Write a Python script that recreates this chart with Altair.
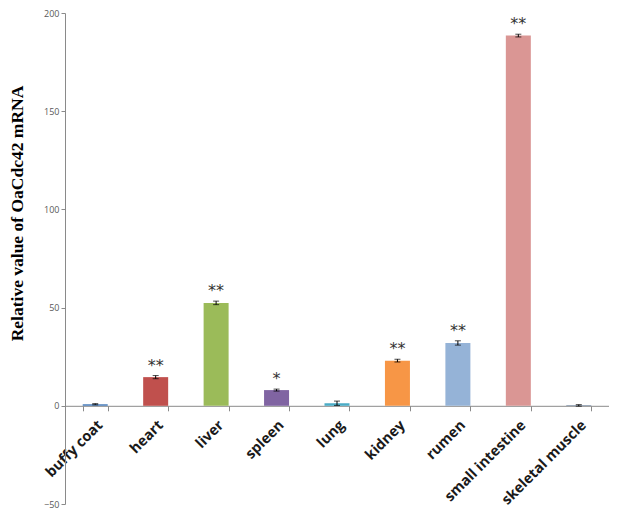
import altair as alt
import pandas as pd

tissues = ["buffy coat", "heart", "liver", "spleen", "lung", "kidney", "rumen",
           "small intestine", "skeletal muscle"]
values = [0.8, 14.6, 52.4, 8.0, 1.3, 23.0, 32.0, 188.5, 0.2]
errors = [0.3, 0.8, 0.9, 0.5, 1.1, 0.7, 1.1, 0.7, 0.4]
marks = ["", "**", "**", "*", "", "**", "**", "**", ""]
colors = ["#4F81BD", "#C0504D", "#9BBB59", "#8064A2", "#4BACC6", "#F79646",
          "#95B3D7", "#DA9694", "#2C4D75"]

df = pd.DataFrame({
    "tissue": tissues,
    "value": values,
    "lo": [v - e for v, e in zip(values, errors)],
    "hi": [v + e for v, e in zip(values, errors)],
    "mark": marks,
    "color": colors,
})

H = 491
W = 544
x = alt.X("tissue:N", sort=tissues, title=None,
          scale=alt.Scale(paddingInner=0.59, paddingOuter=0.295),
          axis=alt.Axis(offset=-(50 * H / 250), labelAngle=-45, labelAlign="right",
                        labelBaseline="top", labelFont="Open Sans", labelFontWeight="bold",
                        labelFontSize=14.5, labelColor="#1a1a1a", labelPadding=7,
                        domainColor="#8a8a8a", tickColor="#8a8a8a", tickSize=5,
                        tickBand="extent", labelOverlap=False))
y_scale = alt.Scale(domain=[-50, 200], nice=False)

base = alt.Chart(df)

bars = base.mark_bar(size=25).encode(
    x=x,
    y=alt.Y("value:Q", scale=y_scale,
            title="Relative value of OaCdc42 mRNA",
            axis=alt.Axis(values=[-50, 0, 50, 100, 150, 200], grid=False,
                          labelFont="Open Sans", labelFontSize=9, labelColor="#595959",
                          domainColor="#8a8a8a", tickColor="#8a8a8a", tickSize=4,
                          titleFont="Liberation Serif", titleFontSize=17.5,
                          titleFontWeight="bold", titleColor="#000000",
                          titleAngle=270, titleAlign="center", titleBaseline="middle",
                          titleX=-48, titleY=200)),
    color=alt.Color("color:N", scale=None),
)

rules = base.mark_rule(color="#000000", strokeWidth=1).encode(
    x=alt.X("tissue:N", sort=tissues), y=alt.Y("lo:Q", scale=y_scale), y2="hi:Q")
cap_lo = base.mark_tick(color="#000000", size=6, thickness=1).encode(
    x=alt.X("tissue:N", sort=tissues), y=alt.Y("lo:Q", scale=y_scale))
cap_hi = base.mark_tick(color="#000000", size=6, thickness=1).encode(
    x=alt.X("tissue:N", sort=tissues), y=alt.Y("hi:Q", scale=y_scale))

stars = base.mark_text(fontSize=16, color="#333333", baseline="bottom", dy=-2,
                       font="DejaVu Sans").encode(
    x=alt.X("tissue:N", sort=tissues), y=alt.Y("hi:Q", scale=y_scale), text="mark:N")

chart = alt.layer(bars, rules, cap_lo, cap_hi, stars).properties(
    width=W, height=H,
    autosize=alt.AutoSizeParams(type="none"),
    padding={"left": 57, "top": 5, "right": 0, "bottom": 8},
    background="white",
).configure_view(stroke=None)

chart.save("out.html", embed_options={"renderer": "svg", "actions": False})
